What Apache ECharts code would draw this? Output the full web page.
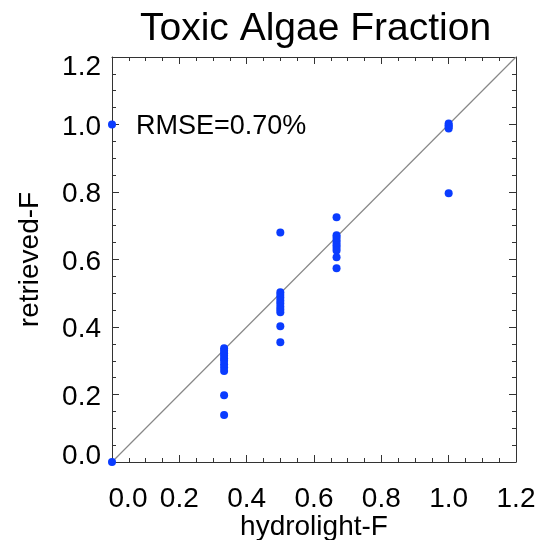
<!DOCTYPE html>
<html>
<head>
<meta charset="utf-8">
<script src="https://cdn.jsdelivr.net/npm/echarts@6/dist/echarts.min.js"></script>
<style>html,body{margin:0;padding:0;background:#fff}#c{width:543px;height:540px}</style>
</head>
<body>
<div id="c"></div>
<script>
const hydrolightF = [0, 0,
  0.333, 0.333, 0.333, 0.333, 0.333, 0.333, 0.333, 0.333, 0.333, 0.333, 0.333,
  0.5, 0.5, 0.5, 0.5, 0.5, 0.5, 0.5, 0.5, 0.5, 0.5, 0.5,
  0.667, 0.667, 0.667, 0.667, 0.667, 0.667, 0.667, 0.667, 0.667, 0.667,
  1.0, 1.0, 1.0, 1.0, 1.0];
const retrievedF = [0.0, 1.0,
  0.337, 0.330, 0.322, 0.315, 0.307, 0.300, 0.290, 0.280, 0.270, 0.198, 0.139,
  0.680, 0.503, 0.495, 0.487, 0.478, 0.470, 0.460, 0.452, 0.444, 0.402, 0.355,
  0.725, 0.672, 0.665, 0.657, 0.650, 0.642, 0.635, 0.627, 0.607, 0.574,
  1.003, 0.998, 0.993, 0.988, 0.796];
const oneToOneX = [0, 1.2];
const oneToOneY = [0, 1.2];
const tickLabels = ['0.0', '0.2', '0.4', '0.6', '0.8', '1.0', '1.2'];
const titleText = 'Toxic Algae Fraction';
const rmseText = 'RMSE=0.70%';

const FONT = '"Liberation Sans", Arial, Helvetica, sans-serif';
const axisColor = '#333';
const points = hydrolightF.map((x, i) => [x, retrievedF[i]]);
const diag = oneToOneX.map((x, i) => [x, oneToOneY[i]]);
const idx = v => Math.round(v / 0.2);
const fmt = v => { const i = idx(v); return tickLabels[i] !== undefined ? tickLabels[i] : v.toFixed(1); };
const fmtX = v => {
  const i = idx(v);
  const t = fmt(v);
  return i === 0 ? '{first|' + t + '}' : '{n|' + t + '}';
};
const fmtY = v => {
  const i = idx(v);
  const t = fmt(v);
  if (i === tickLabels.length - 1) return '{top|' + t + '}';
  if (i === 0) return '{bot|' + t + '}';
  return '{mid|' + t + '}';
};
const labStyle = { fontSize: 28, color: '#000', fontFamily: FONT };

function mkAxis(pos, show, extra) {
  return Object.assign({
    type: 'value', position: pos, min: 0, max: 1.2, interval: 0.2,
    axisLine: { show: true, onZero: false, lineStyle: { color: axisColor, width: 1 } },
    axisTick: { show: true, inside: true, length: 7, lineStyle: { color: axisColor } },
    minorTick: { show: true, splitNumber: 4, length: 4, lineStyle: { color: axisColor } },
    splitLine: { show: false },
    axisLabel: { show: false }
  }, extra || {});
}

const chart = echarts.init(document.getElementById('c'));
chart.setOption({
  backgroundColor: '#fff',
  animation: false,
  grid: { left: 112, right: 27, top: 57, bottom: 78, containLabel: false, outerBoundsMode: 'none' },
  xAxis: [
    mkAxis('bottom', true, { name: 'hydrolight-F', nameLocation: 'middle', nameGap: 51, nameMoveOverlap: false,
      nameTextStyle: { fontSize: 28, color: '#000', fontFamily: FONT },
      axisLabel: Object.assign({ show: true, margin: 23, formatter: fmtX,
        rich: {
          first: Object.assign({ padding: [0, 0, 0, 32] }, labStyle),
          n: Object.assign({}, labStyle)
        } }, labStyle) }),
    mkAxis('top', false)
  ],
  yAxis: [
    mkAxis('left', true, { name: 'retrieved-F', nameLocation: 'middle', nameGap: 68, nameMoveOverlap: false,
      nameTextStyle: { fontSize: 28, color: '#000', fontFamily: FONT },
      axisLabel: Object.assign({ show: true, margin: 11, formatter: fmtY,
        rich: {
          top: Object.assign({ padding: [20, 0, 0, 0] }, labStyle),
          bot: Object.assign({ padding: [0, 0, 12, 0] }, labStyle),
          mid: Object.assign({ padding: [5, 0, 0, 0] }, labStyle)
        } }, labStyle) }),
    mkAxis('right', false)
  ],
  graphic: [
    { type: 'text', left: 140, top: 10, style: { text: titleText, fontSize: 39, fill: '#000', fontFamily: FONT } },
    { type: 'text', left: 136, top: 113, style: { text: rmseText, fontSize: 27, fill: '#000', fontFamily: FONT } }
  ],
  series: [
    { type: 'line', data: diag, xAxisIndex: 0, yAxisIndex: 0, symbol: 'none', silent: true,
      lineStyle: { color: '#888', width: 1.2 }, z: 1 },
    { type: 'scatter', data: points, xAxisIndex: 0, yAxisIndex: 0, symbol: 'circle', symbolSize: 8,
      itemStyle: { color: '#0a3cff', opacity: 1 }, z: 3 }
  ]
});
</script>
</body>
</html>
